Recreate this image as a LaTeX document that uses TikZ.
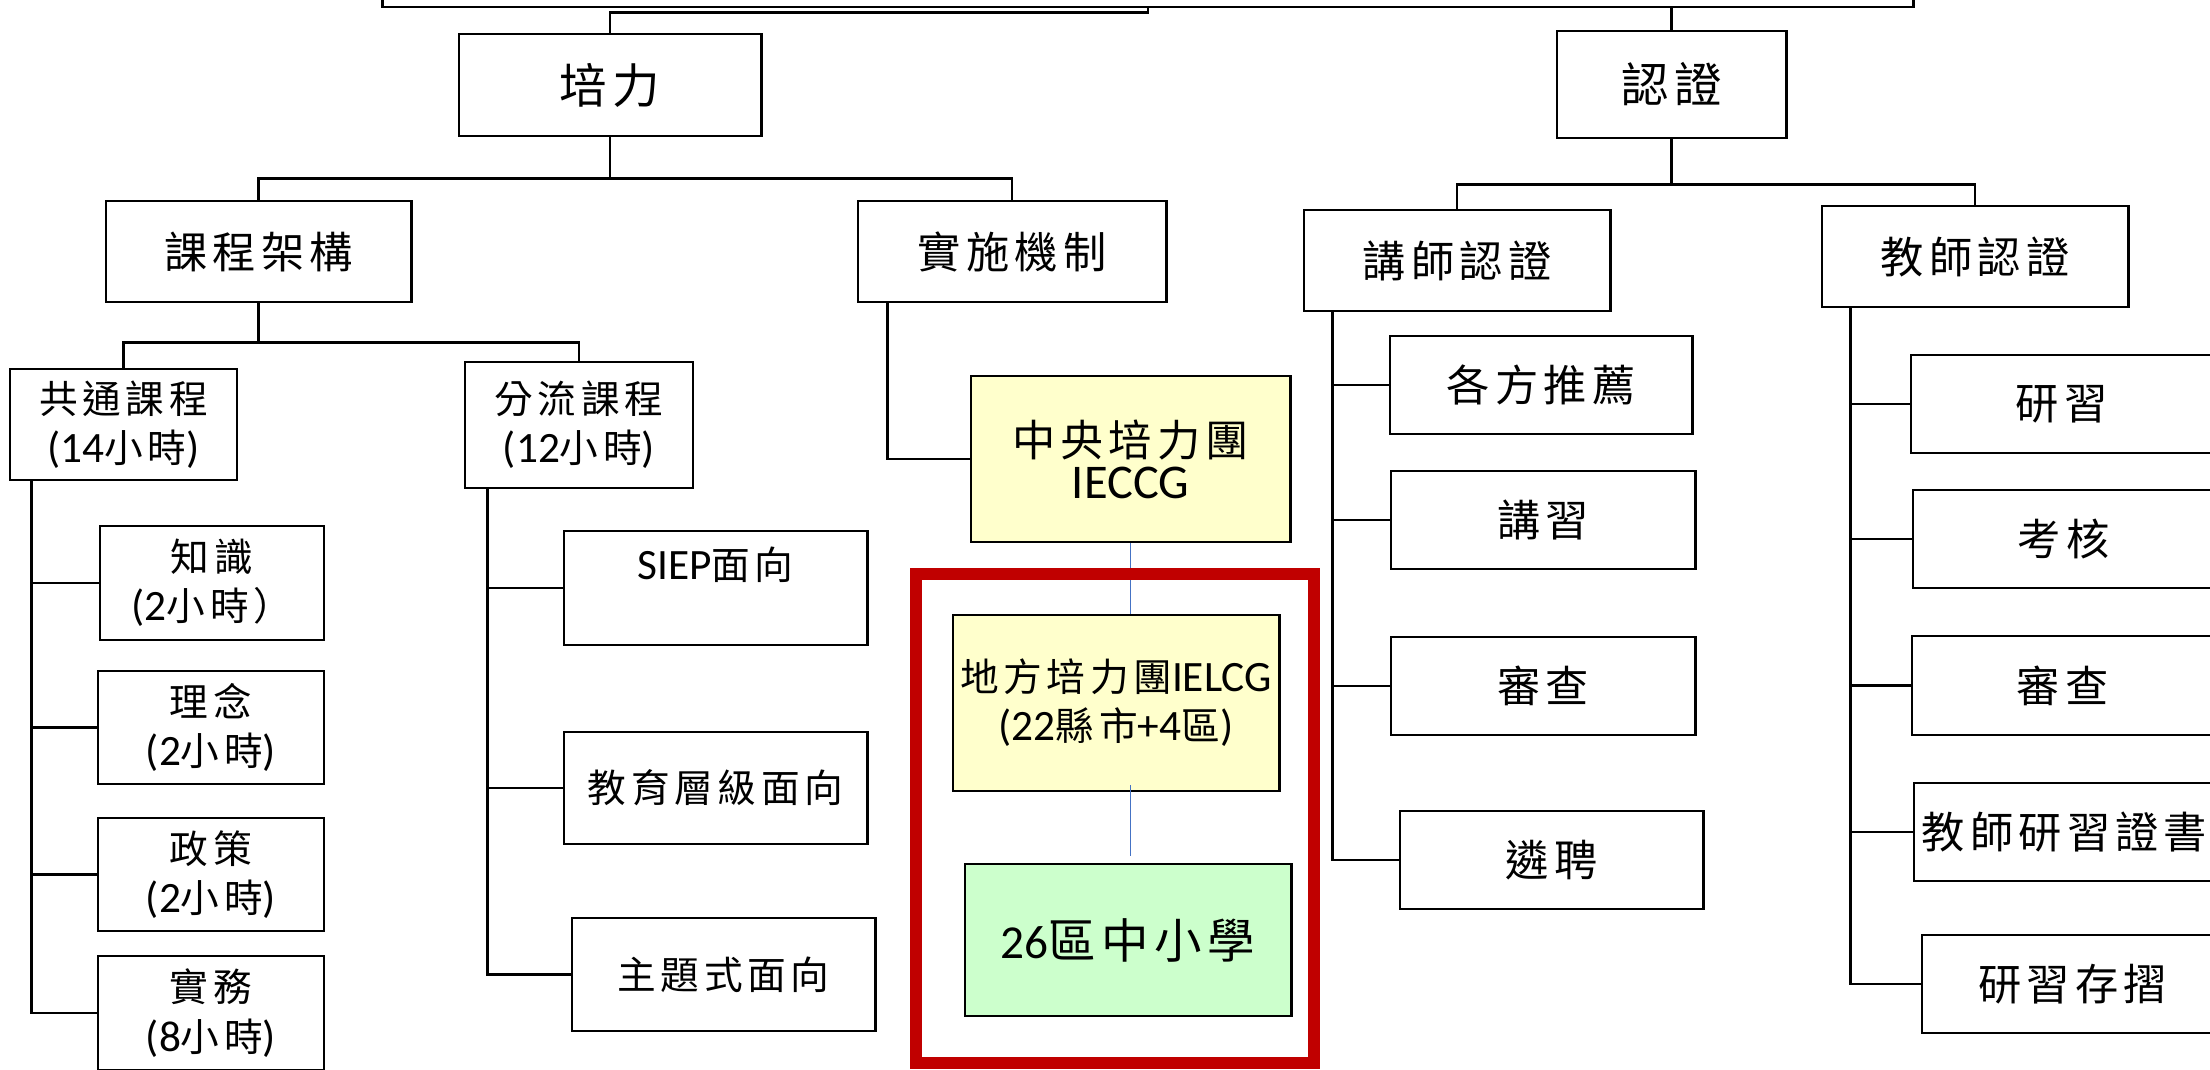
\documentclass[tikz,border=0pt]{standalone}
\usepackage{fontspec}
\setmainfont[LetterSpace=12]{Noto Sans CJK TC}
\newfontfamily\engfont[Scale=1.12]{Carlito}
\newcommand{\eng}[1]{{\engfont #1}}
\usetikzlibrary{positioning}
\definecolor{paleyellow}{HTML}{FFFFCC}
\definecolor{palegreen}{HTML}{CCFFCC}
\definecolor{darkred}{HTML}{C00000}
\definecolor{linkblue}{HTML}{4472C4}
\tikzset{
  orgbox/.style={draw, line width=0.8pt, fill=white, inner sep=0pt, align=center},
  wh/.style 2 args={minimum width=#1cm, minimum height=#2cm},
  lvlone/.style={font=\fontsize{13.5}{16}\selectfont},
  lvltwo/.style={font=\fontsize{12.3}{14}\selectfont},
  leaf/.style={font=\fontsize{11}{14}\selectfont},
  link/.style={line width=0.7pt},
  bluelink/.style={draw=linkblue, line width=0.4pt},
}

\begin{document}
\begin{tikzpicture}[x=0.01cm, y=-0.01cm]
 \clip (0,0) rectangle (2210,1069);
 % top
 \node[orgbox, wh={15.3}{0.64}] (root) at (1148,-25) {};
 \node[orgbox, lvlone, wh={3.02}{1.02}] (peili) at (610,85) {培力};
 \node[orgbox, lvlone, wh={2.29}{1.07}] (renzheng) at (1671.5,84.5) {認證};

 % second level
 \node[orgbox, lvltwo, wh={3.05}{1.01}] (kecheng) at (258.5,251.5) {課程架構};
 \node[orgbox, lvltwo, wh={3.08}{1.01}] (shishi) at (1012,251.5) {實施機制};
 \node[orgbox, lvltwo, wh={3.06}{1.01}] (jiangshi) at (1457,260.5) {講師認證};
 \node[orgbox, lvltwo, wh={3.06}{1.01}] (jiaoshi) at (1975,256.5) {教師認證};

 % courses
 \node[orgbox, leaf, wh={2.27}{1.11}] (gongtong) at (123.5,424.5) {共通課程\\\eng{(14}小時\eng{)}};
 \node[orgbox, leaf, wh={2.28}{1.26}] (fenliu) at (579,425) {分流課程\\\eng{(12}小時\eng{)}};
 \node[orgbox, leaf, wh={2.24}{1.14}] (zhishi) at (212,583) {知識\\\eng{(2}小時）};
 \node[orgbox, leaf, wh={2.26}{1.13}] (linian) at (211,727.5) {理念\\\eng{(2}小時\eng{)}};
 \node[orgbox, leaf, wh={2.26}{1.13}] (zhengce) at (211,874.5) {政策\\\eng{(2}小時\eng{)}};
 \node[orgbox, leaf, wh={2.26}{1.14}] (shiwu) at (211,1013) {實務\\\eng{(8}小時\eng{)}};
 \node[orgbox, leaf, wh={3.03}{1.14}] (siep) at (715.5,588) {\eng{SIEP}面向\\~};
 \node[orgbox, leaf, wh={3.03}{1.12}] (jiaoyu) at (715.5,788) {教育層級面向};
 \node[orgbox, leaf, wh={3.03}{1.13}] (zhuti) at (723.5,974.5) {主題式面向};

 % groups
 \node[orgbox, lvltwo, fill=paleyellow, wh={3.19}{1.66}] (zhongyang) at (1130.5,459) {中央培力團\\[-2pt]\eng{IECCG}};
 \node[orgbox, font=\fontsize{11}{14}\selectfont, fill=paleyellow, wh={3.26}{1.76}] (difang) at (1116,703) {地方培力團\eng{IELCG}\\\eng{(22}縣市\eng{+4}區\eng{)}};
 \node[orgbox, lvlone, fill=palegreen, wh={3.26}{1.52}] (xuexiao) at (1128,940) {\eng{\fontsize{12}{16}\selectfont 26}區中小學};

 % certification
 \node[orgbox, lvltwo, wh={3.02}{0.98}] (tuijian) at (1541,385) {各方推薦};
 \node[orgbox, lvltwo, wh={3.04}{0.98}] (jiangxi) at (1543,520) {講習};
 \node[orgbox, lvltwo, wh={3.04}{0.98}] (shencha) at (1543,686) {審查};
 \node[orgbox, lvltwo, wh={3.03}{0.98}] (pinren) at (1551.5,860) {遴聘};
 \node[orgbox, lvltwo, wh={3.01}{0.98}] (yanxi) at (2061.5,404) {研習};
 \node[orgbox, lvltwo, wh={3.01}{0.98}] (kaohe) at (2063.5,539) {考核};
 \node[orgbox, lvltwo, wh={3.01}{0.99}] (shenchab) at (2062.5,685.5) {審查};
 \node[orgbox, lvltwo, wh={3.01}{0.98}] (zhengshu) at (2064.5,832) {教師研習證書};
 \node[orgbox, lvltwo, wh={3.01}{0.98}] (cunzhe) at (2072.5,984) {研習存摺};

 % connectors
 \draw[link] (root.south) -- ++(0,4) -| (peili.north);
 \draw[link] (renzheng.north) -- (renzheng.north |- root.south);
 \foreach \c in {kecheng,shishi} {
  \draw[link] (peili.south) -- ++(0,41) -| (\c.north);
 };
 \foreach \c in {jiangshi,jiaoshi} {
  \draw[link] (renzheng.south) -- ++(0,45) -| (\c.north);
 };
 \foreach \c in {gongtong,fenliu} {
  \draw[link] (kecheng.south) -- ++(0,39) -| (\c.north);
 };
 \foreach \c in {zhishi,linian,zhengce,shiwu} {
  \draw[link] (gongtong.south west) ++(23,0) |- (\c.west);
 };
 \foreach \c in {siep,jiaoyu,zhuti} {
  \draw[link] (fenliu.south west) ++(24,0) |- (\c.west);
 };
 \draw[link] (shishi.south west) ++(31,0) |- (zhongyang.west);
 \foreach \c in {tuijian,jiangxi,shencha,pinren} {
  \draw[link] (jiangshi.south west) ++(30,0) |- (\c.west);
 };
 \foreach \c in {yanxi,kaohe,shenchab,zhengshu,cunzhe} {
  \draw[link] (jiaoshi.south west) ++(30,0) |- (\c.west);
 };
 \draw[bluelink] (zhongyang.south) -- (zhongyang.south |- difang.north);
 \draw[bluelink] ([yshift=2pt]difang.south -| zhongyang.south) -- ([yshift=2pt]zhongyang.south |- xuexiao.north);

 % frame
 \draw[darkred, line width=3.4pt] (916,574) rectangle (1314,1063);
\end{tikzpicture}
\end{document}
